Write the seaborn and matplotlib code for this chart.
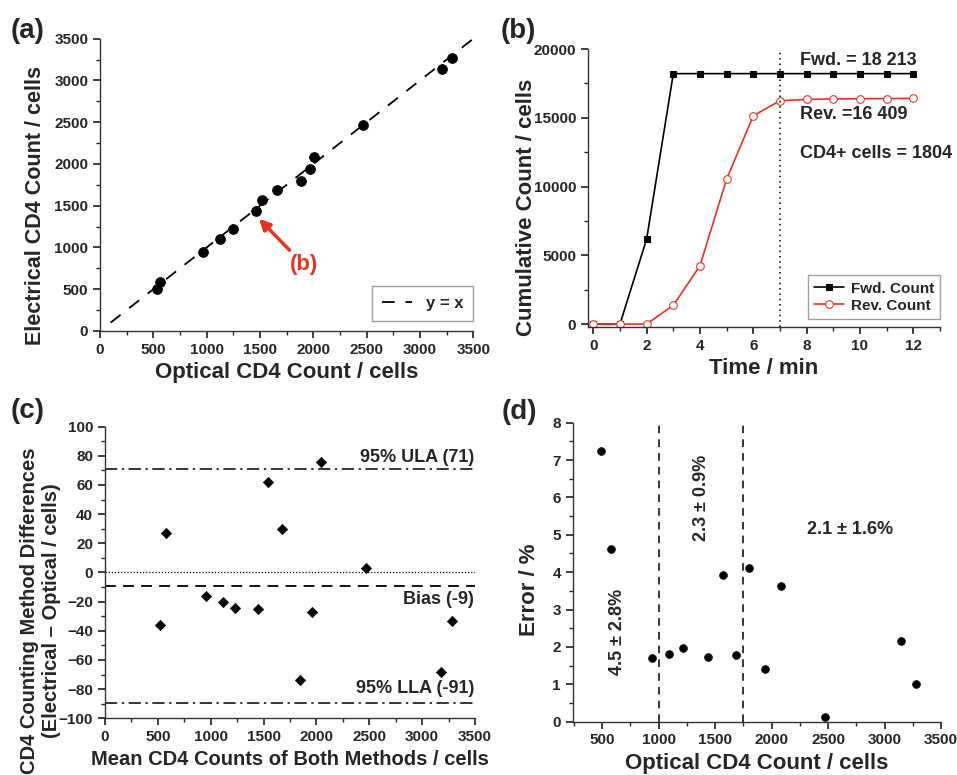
import numpy as np
import pandas as pd
import matplotlib
matplotlib.use('Agg')
import matplotlib.pyplot as plt
from matplotlib.ticker import MultipleLocator
import seaborn as sns

sns.set_theme(style='ticks')
plt.rcParams['font.family'] = ['Liberation Sans', 'DejaVu Sans']
plt.rcParams.update({'font.weight': 'bold', 'axes.labelweight': 'bold',
                     'xtick.direction': 'out', 'ytick.direction': 'out',
                     'xtick.major.size': 5, 'ytick.major.size': 5,
                     'xtick.minor.size': 3, 'ytick.minor.size': 3,
                     'xtick.minor.visible': True, 'ytick.minor.visible': True,
                     'axes.edgecolor': '#333333', 'axes.linewidth': 1.0})

# (a) optical vs electrical counts
optical = [537, 562, 966, 1122, 1247, 1466, 1519, 1659, 1881, 1966, 2006, 2469, 3206, 3303]
electrical = [497, 589, 945, 1097, 1217, 1434, 1570, 1686, 1798, 1938, 2078, 2467, 3136, 3268]
ident_line = [100, 3500]

# (b) cumulative counts over time
time_min = [0, 1, 2, 3, 4, 5, 6, 7, 8, 9, 10, 11, 12]
fwd_count = [0, 0, 6180, 18213, 18213, 18213, 18213, 18213, 18213, 18213, 18213, 18213, 18213]
rev_count = [0, 0, 0, 1360, 4240, 10550, 15150, 16240, 16340, 16370, 16390, 16400, 16409]

# (c) Bland-Altman
ba_mean = [520, 574, 959, 1114, 1233, 1448, 1543, 1675, 1842, 1956, 2047, 2470, 3177, 3287]
ba_diff = [-36, 27, -16, -20, -24.5, -25, 62, 30, -74, -27, 76, 3, -68, -33]
ula, bias, lla = 71, -9, -89.5

# (d) error vs optical count
err_x = [491, 577, 941, 1095, 1213, 1438, 1574, 1689, 1805, 1941, 2083, 2473, 3148, 3278]
err_y = [7.23, 4.61, 1.70, 1.82, 1.97, 1.74, 3.93, 1.78, 4.10, 1.40, 3.64, 0.12, 2.17, 1.02]
bins = [1000, 1750]

fig = plt.figure(figsize=(9.57, 7.75), dpi=100)
ax_a = fig.add_axes([0.1045, 0.573, 0.390, 0.377])
ax_b = fig.add_axes([0.6144, 0.578, 0.3678, 0.3587])
ax_c = fig.add_axes([0.1097, 0.0732, 0.3866, 0.3763])
ax_d = fig.add_axes([0.5984, 0.0688, 0.3849, 0.3858])

lab = dict(fontsize=16, fontweight='bold')
note = dict(fontsize=13, fontweight='bold')
red = '#e8321e'
for ax in (ax_a, ax_b, ax_c, ax_d):
    ax.tick_params(labelsize=11)
    sns.despine(ax=ax)

# --- (a)
sns.lineplot(x=ident_line, y=ident_line, ax=ax_a, color='black', lw=1.3,
             linestyle=(0, (7, 6)), label='y = x')
sns.scatterplot(x=optical, y=electrical, ax=ax_a, color='black', s=50, edgecolor='black', zorder=3)
ax_a.set_xlim(0, 3500)
ax_a.set_ylim(0, 3500)
ax_a.xaxis.set_major_locator(MultipleLocator(500))
ax_a.yaxis.set_major_locator(MultipleLocator(500))
ax_a.xaxis.set_minor_locator(MultipleLocator(250))
ax_a.yaxis.set_minor_locator(MultipleLocator(250))
ax_a.set_xlabel('Optical CD4 Count / cells', **lab)
ax_a.set_ylabel('Electrical CD4 Count / cells', fontsize=15.5, fontweight='bold')
ax_a.yaxis.set_label_coords(-0.145, 0.43)
leg = ax_a.legend(loc='lower right', bbox_to_anchor=(1.0, 0.035), fontsize=12, fancybox=False,
                  handlelength=1.8, edgecolor='#888888', borderpad=0.6, borderaxespad=0)
leg.get_frame().set_linewidth(1.0)
ax_a.annotate('(b)', xy=(optical[5] + 25, electrical[5] - 90), xytext=(1912, 790),
              ha='center', va='center', color=red, fontsize=16, fontweight='bold',
              arrowprops=dict(arrowstyle='-|>', color=red, lw=2.5, mutation_scale=16,
                              shrinkA=1, shrinkB=0))

# --- (b)
sns.lineplot(x=time_min, y=fwd_count, ax=ax_b, color='black', lw=1.2, marker='s',
             markersize=4.5, markeredgecolor='black', label='Fwd. Count')
sns.lineplot(x=time_min, y=rev_count, ax=ax_b, color=red, lw=1.2, marker='o',
             markersize=5.5, markerfacecolor='white', markeredgecolor=red, label='Rev. Count')
ax_b.axvline(7, color='black', lw=1.1, linestyle=(0, (1, 2.5)))
ax_b.set_xlim(-0.2, 13)
ax_b.set_ylim(-220, 20000)
ax_b.xaxis.set_major_locator(MultipleLocator(2))
ax_b.xaxis.set_minor_locator(MultipleLocator(1))
ax_b.yaxis.set_major_locator(MultipleLocator(5000))
ax_b.yaxis.set_minor_locator(MultipleLocator(2500))
ax_b.set_xlabel('Time / min', **lab)
ax_b.set_ylabel('Cumulative Count / cells', **lab)
ax_b.yaxis.set_label_coords(-0.145, 0.432)
ax_b.text(7.75, 19150, 'Fwd. = 18 213', va='center', **note)
ax_b.text(7.75, 15250, 'Rev. =16 409', va='center', **note)
ax_b.text(7.75, 12400, 'CD4+ cells = 1804', va='center', clip_on=False, **note)
leg = ax_b.legend(loc='lower right', bbox_to_anchor=(1.0, 0.03), fontsize=11, fancybox=False,
                  handlelength=2.0, edgecolor='#888888', borderaxespad=0, labelspacing=0.2,
                  handletextpad=0.4)
leg.get_frame().set_linewidth(1.0)

# --- (c)
sns.scatterplot(x=ba_mean, y=ba_diff, ax=ax_c, color='black', marker='D', s=28,
                edgecolor='black', zorder=3)
ax_c.axhline(ula, color='black', lw=1.1, linestyle=(0, (8, 3, 1.5, 3)))
ax_c.axhline(lla, color='black', lw=1.1, linestyle=(0, (8, 3, 1.5, 3)))
ax_c.axhline(bias, color='black', lw=1.3, linestyle=(0, (6, 4)))
ax_c.axhline(0, color='black', lw=0.9, linestyle=(0, (1, 1.5)))
ax_c.set_xlim(0, 3500)
ax_c.set_ylim(-100, 100)
ax_c.xaxis.set_major_locator(MultipleLocator(500))
ax_c.xaxis.set_minor_locator(MultipleLocator(250))
ax_c.yaxis.set_major_locator(MultipleLocator(20))
ax_c.yaxis.set_minor_locator(MultipleLocator(10))
ax_c.set_xlabel('Mean CD4 Counts of Both Methods / cells', fontsize=14.5, fontweight='bold')
ax_c.set_ylabel('CD4 Counting Method Differences\n(Electrical \u2013 Optical / cells)',
                fontsize=14.5, fontweight='bold', linespacing=1.15)
ax_c.yaxis.set_label_coords(-0.12, 0.368)
ax_c.text(3490, 79, '95% ULA (71)', ha='right', va='center', **note)
ax_c.text(3490, -18.5, 'Bias (-9)', ha='right', va='center', **note)
ax_c.text(3490, -79.5, '95% LLA (-91)', ha='right', va='center', **note)

# --- (d)
sns.scatterplot(x=err_x, y=err_y, ax=ax_d, color='black', s=32, edgecolor='black', zorder=3)
for b in bins:
    ax_d.axvline(b, color='black', lw=1.1, linestyle=(0, (5, 4)))
ax_d.set_xlim(240, 3500)
ax_d.set_ylim(0, 8)
ax_d.xaxis.set_major_locator(MultipleLocator(500))
ax_d.xaxis.set_minor_locator(MultipleLocator(250))
ax_d.yaxis.set_major_locator(MultipleLocator(1))
ax_d.yaxis.set_minor_locator(MultipleLocator(0.5))
ax_d.set_xlabel('Optical CD4 Count / cells', **lab)
ax_d.set_ylabel('Error / %', **lab)
ax_d.yaxis.set_label_coords(-0.09, 0.44)
ax_d.text(633, 2.4, '4.5 \u00b1 2.8%', rotation=90, ha='center', va='center', **note)
ax_d.text(1382, 5.98, '2.3 \u00b1 0.9%', rotation=90, ha='center', va='center', **note)
ax_d.text(2698, 5.15, '2.1 \u00b1 1.6%', ha='center', va='center', **note)

for ax in (ax_a, ax_b, ax_c, ax_d):
    for t in ax.get_xticklabels() + ax.get_yticklabels():
        t.set_fontweight('bold')

for txt, x, y in [('(a)', 0.011, 1 - 31 / 775), ('(b)', 0.5235, 1 - 31 / 775),
                  ('(c)', 0.011, 1 - 411 / 775), ('(d)', 0.5245, 1 - 412 / 775)]:
    fig.text(x, y, txt, fontsize=20, fontweight='bold', va='center', ha='left')

fig.savefig('out.png', dpi=100)
